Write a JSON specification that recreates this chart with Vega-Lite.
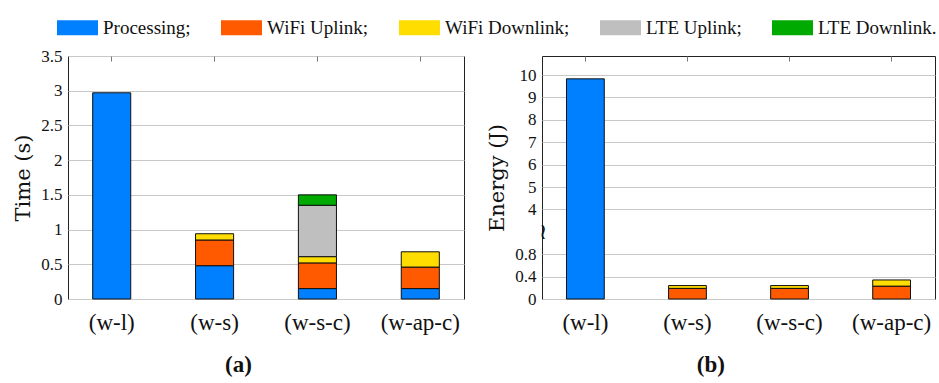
{
  "$schema": "https://vega.github.io/schema/vega-lite/v6.json",
  "background": "white",
  "padding": {"left": 12, "top": 7, "right": 4, "bottom": 4},
  "bounds": "flush",
  "spacing": 78,
  "datasets": {
    "time": [
      {"config": "(w-l)", "component": "Processing", "value": 2.97},
      {"config": "(w-s)", "component": "Processing", "value": 0.48},
      {"config": "(w-s)", "component": "WiFi Uplink", "value": 0.37},
      {"config": "(w-s)", "component": "WiFi Downlink", "value": 0.09},
      {"config": "(w-s-c)", "component": "Processing", "value": 0.15},
      {"config": "(w-s-c)", "component": "WiFi Uplink", "value": 0.37},
      {"config": "(w-s-c)", "component": "WiFi Downlink", "value": 0.09},
      {"config": "(w-s-c)", "component": "LTE Uplink", "value": 0.74},
      {"config": "(w-s-c)", "component": "LTE Downlink", "value": 0.15},
      {"config": "(w-ap-c)", "component": "Processing", "value": 0.15},
      {"config": "(w-ap-c)", "component": "WiFi Uplink", "value": 0.31},
      {"config": "(w-ap-c)", "component": "WiFi Downlink", "value": 0.22}
    ],
    "energy": [
      {"config": "(w-l)", "component": "Processing", "value": 9.83},
      {"config": "(w-s)", "component": "WiFi Uplink", "value": 0.19},
      {"config": "(w-s)", "component": "WiFi Downlink", "value": 0.05},
      {"config": "(w-s-c)", "component": "WiFi Uplink", "value": 0.19},
      {"config": "(w-s-c)", "component": "WiFi Downlink", "value": 0.05},
      {"config": "(w-ap-c)", "component": "WiFi Uplink", "value": 0.23},
      {"config": "(w-ap-c)", "component": "WiFi Downlink", "value": 0.11}
    ]
  },
  "config": {
    "view": {"stroke": "#222", "strokeWidth": 1},
    "axis": {
      "labelFont": "Liberation Serif",
      "labelFontSize": 17,
      "labelColor": "#111",
      "titleFont": "DejaVu Serif",
      "titleFontSize": 21,
      "titleFontWeight": "normal",
      "titleColor": "#111",
      "domain": false,
      "ticks": false,
      "gridColor": "#c8c8c8",
      "gridWidth": 1
    },
    "title": {"font": "Liberation Serif", "fontSize": 23, "fontWeight": "bold", "color": "#111"}
  },
  "hconcat": [
    {
      "width": 396,
      "height": 243,
      "title": {"text": "(a)", "orient": "bottom", "anchor": "middle", "frame": "bounds", "offset": 20},
      "data": {"name": "time"},
      "layer": [
        {
          "transform": [
            {"calculate": "indexof(['Processing', 'WiFi Uplink', 'WiFi Downlink', 'LTE Uplink', 'LTE Downlink'], datum.component)", "as": "stack_order"}
          ],
          "mark": {"type": "bar", "stroke": "#111", "strokeWidth": 1},
          "encoding": {
            "x": {
              "field": "config", "type": "nominal",
              "sort": ["(w-l)", "(w-s)", "(w-s-c)", "(w-ap-c)"],
              "scale": {"paddingInner": 0.63, "paddingOuter": 0.24},
              "axis": {"title": null, "labelAngle": 0, "labelFontSize": 23, "labelPadding": 12, "grid": false}
            },
            "y": {
              "field": "value", "type": "quantitative", "stack": "zero",
              "scale": {"domain": [0, 3.5], "nice": false},
              "axis": {"title": "Time (s)", "values": [0, 0.5, 1, 1.5, 2, 2.5, 3, 3.5], "format": "~g", "grid": true, "labelPadding": 6, "titlePadding": 7}
            },
            "order": {"field": "stack_order", "type": "quantitative", "sort": "ascending"},
            "color": {
              "field": "component", "type": "nominal",
              "sort": ["Processing", "WiFi Uplink", "WiFi Downlink", "LTE Uplink", "LTE Downlink"],
              "scale": {
                "domain": ["Processing", "WiFi Uplink", "WiFi Downlink", "LTE Uplink", "LTE Downlink"],
                "range": ["#0080ff", "#ff5a00", "#ffdd00", "#bfbfbf", "#00aa00"]
              },
              "legend": {
                "title": null,
                "orient": "none",
                "direction": "horizontal",
                "columns": 5,
                "legendX": -11,
                "legendY": -49,
                "symbolType": "M-1,-0.366H1V0.366H-1Z",
                "symbolSize": 1681,
                "symbolStrokeWidth": 0,
                "symbolOpacity": 1,
                "labelFont": "Liberation Serif",
                "labelFontSize": 19,
                "labelColor": "#111",
                "labelOffset": 5,
                "columnPadding": 30,
                "labelLimit": 300,
                "labelExpr": "datum.label == 'LTE Downlink' ? datum.label + '.' : datum.label + ';'"
              }
            }
          }
        },
        {
          "mark": {"type": "rule", "opacity": 0},
          "encoding": {
            "x": {
              "field": "config", "type": "nominal",
              "sort": ["(w-l)", "(w-s)", "(w-s-c)", "(w-ap-c)"],
              "axis": {"orient": "top", "title": null, "labels": false, "ticks": true, "tickSize": -5, "tickColor": "#777", "grid": false}
            }
          }
        }
      ],
      "resolve": {"axis": {"x": "independent"}}
    },
    {
      "width": 393,
      "height": 243,
      "title": {"text": "(b)", "orient": "bottom", "anchor": "middle", "frame": "bounds", "offset": 20},
      "data": {"name": "energy"},
      "layer": [
        {
          "transform": [
            {"calculate": "indexof(['Processing', 'WiFi Uplink', 'WiFi Downlink', 'LTE Uplink', 'LTE Downlink'], datum.component)", "as": "stack_order"}
          ],
          "mark": {"type": "bar", "stroke": "#111", "strokeWidth": 1},
          "encoding": {
            "x": {
              "field": "config", "type": "nominal",
              "sort": ["(w-l)", "(w-s)", "(w-s-c)", "(w-ap-c)"],
              "scale": {"paddingInner": 0.63, "paddingOuter": 0.24},
              "axis": {"title": null, "labelAngle": 0, "labelFontSize": 23, "labelPadding": 12, "grid": false}
            },
            "y": {
              "field": "value", "type": "quantitative", "stack": "zero",
              "scale": {"type": "linear", "domain": [0, 0.8, 4, 10.85], "range": [243, 198.2, 153.4, 0], "nice": false, "zero": false},
              "axis": {
                "title": "Energy (J)",
                "values": [0, 0.4, 0.8, 2.4, 4, 5, 6, 7, 8, 9, 10],
                "labelExpr": "datum.value == 2.4 ? '≀' : '' + datum.value",
                "labelFont": {"condition": {"test": "datum.value == 2.4", "value": "DejaVu Serif"}, "value": "Liberation Serif"},
                "labelFontSize": {"condition": {"test": "datum.value == 2.4", "value": 22}, "value": 17},
                "labelAlign": {"condition": {"test": "datum.value == 2.4", "value": "center"}, "value": "right"},
                "labelPadding": {"condition": {"test": "datum.value == 2.4", "value": 0}, "value": 6},
                "gridOpacity": {"condition": {"test": "datum.value == 2.4", "value": 0}, "value": 1},
                "grid": true,
                "titlePadding": 7
              }
            },
            "order": {"field": "stack_order", "type": "quantitative", "sort": "ascending"},
            "color": {
              "field": "component", "type": "nominal",
              "sort": ["Processing", "WiFi Uplink", "WiFi Downlink", "LTE Uplink", "LTE Downlink"]
            }
          }
        },
        {
          "mark": {"type": "rule", "opacity": 0},
          "encoding": {
            "x": {
              "field": "config", "type": "nominal",
              "sort": ["(w-l)", "(w-s)", "(w-s-c)", "(w-ap-c)"],
              "axis": {"orient": "top", "title": null, "labels": false, "ticks": true, "tickSize": -5, "tickColor": "#777", "grid": false}
            }
          }
        }
      ],
      "resolve": {"axis": {"x": "independent"}}
    }
  ]
}
